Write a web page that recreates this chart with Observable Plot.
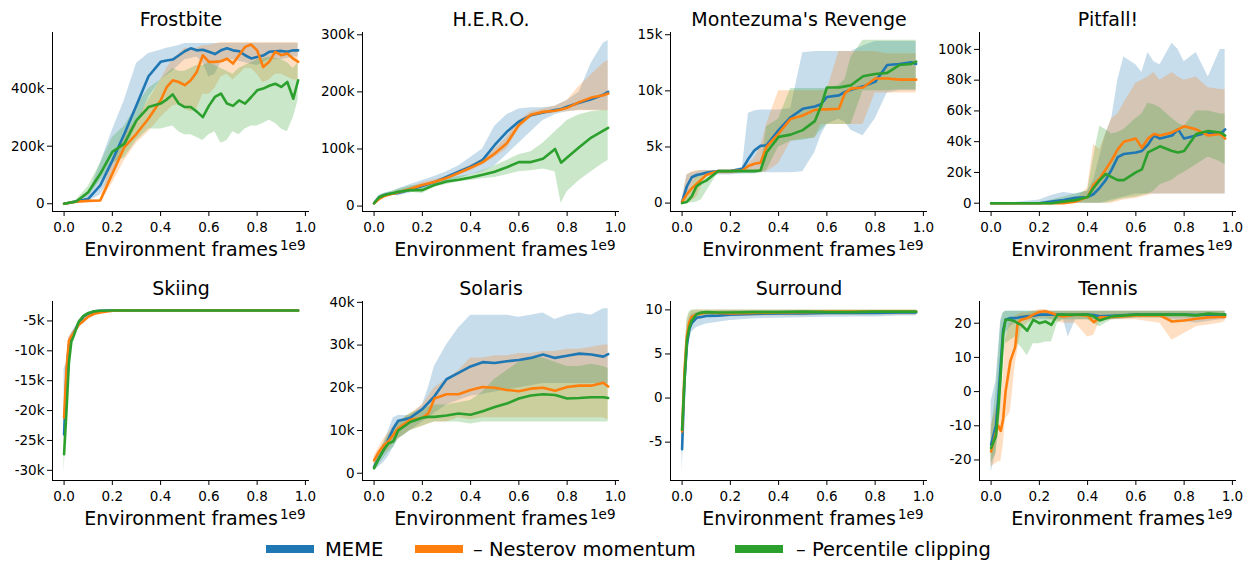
<!DOCTYPE html>
<html><head><meta charset="utf-8">
<script src="https://cdn.jsdelivr.net/npm/d3@7"></script>
<script src="https://cdn.jsdelivr.net/npm/@observablehq/plot@0.6"></script>
<style>
body{margin:0;background:#fff;}
#chart{position:relative;width:1256px;height:565px;font-family:"DejaVu Sans",sans-serif;overflow:hidden;}
#chart svg{position:absolute;}
</style></head><body><div id="chart"></div>
<script>
const seriesNames = ["MEME", "\u2013 Nesterov momentum", "\u2013 Percentile clipping"];
const colors = ["#1f77b4", "#ff7f0e", "#2ca02c"];
const xTicks = [0, 0.2, 0.4, 0.6, 0.8, 1.0];
const xLabel = "Environment frames";

// Frostbite (thousands)
const frostX = [0,0.05,0.1,0.15,0.2,0.25,0.3,0.35,0.4,0.425,0.45,0.475,0.5,0.525,0.55,0.575,0.6,0.625,0.65,0.675,0.7,0.725,0.75,0.775,0.8,0.825,0.85,0.875,0.9,0.925,0.95,0.97];
const frostMeme   = [0,8,17,64,150,243,342,443,493,498,501,515,530,540,533,535,528,520,533,540,533,530,516,505,510,515,528,530,531,528,533,533];
const frostMemeLo = [0,5,8,30,100,190,270,370,430,445,460,480,500,505,510,490,440,450,490,500,500,495,490,485,480,490,500,500,500,505,510,510];
const frostMemeHi = [2,12,30,140,255,360,487,522,533,540,545,550,557,557,557,557,557,557,557,557,557,557,557,557,557,557,557,557,557,557,557,557];
const frostNest   = [0,7,10,11,104,197,243,296,359,405,429,423,412,429,458,516,493,493,495,504,487,516,545,553,533,475,493,528,516,522,504,493];
const frostNestLo = [0,5,7,5,70,150,210,250,300,320,340,345,330,320,330,380,380,400,440,450,430,450,470,470,450,420,430,450,450,440,430,430];
const frostNestHi = [1,9,13,15,150,240,290,360,430,470,500,520,540,540,540,550,550,555,560,560,560,560,560,560,560,560,560,560,560,560,560,560];
const frostPerc   = [0,8,40,104,180,209,290,336,348,362,380,348,336,336,320,301,340,371,383,348,340,359,348,370,394,400,410,417,406,423,365,429];
const frostPercLo = [0,5,25,80,140,160,220,260,260,265,270,250,240,240,230,220,240,250,210,220,250,240,260,270,270,280,290,280,260,250,300,360];
const frostPercHi = [1,12,60,140,230,270,340,400,430,450,470,460,460,470,480,480,490,480,470,460,450,470,480,490,500,505,510,505,500,490,470,490];

// H.E.R.O. (thousands)
const heroX = [0,0.02,0.04,0.06,0.08,0.1,0.15,0.2,0.25,0.3,0.35,0.4,0.45,0.5,0.55,0.6,0.65,0.7,0.75,0.775,0.8,0.85,0.9,0.95,0.97];
const heroMeme   = [5,15,19,21,22,23,29,35,42,51,60,69,81,107,130,148,159,164,168,170,174,181,187,195,200];
const heroMemeLo = [3,12,16,18,19,18,23,28,35,42,48,55,60,70,90,110,130,150,160,163,165,168,168,168,168];
const heroMemeHi = [7,18,22,24,26,30,38,45,52,60,70,85,100,140,160,170,172,172,175,180,185,200,250,285,290];
const heroNest   = [5,12,17,20,22,24,30,37,42,49,58,67,77,92,110,142,160,165,167,169,172,182,190,194,197];
const heroNestLo = [3,10,15,18,20,22,27,33,39,46,54,62,72,85,100,135,155,160,163,165,165,167,167,167,167];
const heroNestHi = [7,14,19,22,24,26,33,41,46,52,62,72,82,100,120,150,165,170,175,180,185,210,230,250,255];
const heroPerc   = [5,15,19,21,23,25,28,28,37,43,46,50,55,60,68,77,77,83,100,76,85,103,120,132,137];
const heroPercLo = [3,12,16,18,19,20,24,22,33,38,42,45,48,50,55,60,62,65,60,5,25,45,60,75,80];
const heroPercHi = [7,18,22,24,27,30,35,38,42,48,52,55,62,70,80,90,95,110,130,140,150,160,165,168,168];

// Montezuma's Revenge (thousands)
const monteX = [0,0.02,0.04,0.06,0.08,0.1,0.15,0.2,0.25,0.275,0.3,0.325,0.35,0.4,0.45,0.5,0.55,0.575,0.6,0.65,0.675,0.7,0.75,0.8,0.85,0.9,0.95,0.97];
const monteMeme   = [0.1,1.5,2.3,2.5,2.6,2.7,2.85,2.85,3.05,3.95,4.7,5.1,5.15,6.5,7.65,8.4,8.6,8.8,9.45,9.6,9.9,10.1,10.4,10.8,12.3,12.4,12.55,12.4];
const monteMemeLo = [0,0.5,1.5,2.2,2.4,2.5,2.5,2.5,2.6,2.6,2.6,2.7,2.7,2.7,2.7,2.8,4.5,6.0,7.0,7.5,7.2,6.5,6.0,7.5,9.8,10.0,10.0,10.0];
const monteMemeHi = [0.3,2.5,2.7,2.8,2.9,2.9,2.9,2.9,3.2,8.0,8.2,8.3,8.3,8.3,8.4,13.4,13.5,13.5,13.5,13.5,13.5,13.5,14.0,14.4,14.4,14.4,14.4,14.4];
const monteNest   = [0.1,0.8,1.3,1.7,2.1,2.5,2.85,2.85,2.9,3.3,3.5,3.6,5.0,6.2,7.5,7.8,8.3,8.35,8.35,8.4,9.8,10.2,10.3,11.1,11.1,11.0,11.0,11.0];
const monteNestLo = [0,0.1,0.2,0.5,1.5,2.5,2.6,2.6,2.7,2.7,2.7,2.7,2.8,3.5,5.5,5.7,5.8,7.0,7.0,7.0,7.0,7.0,7.0,9.8,9.8,9.8,9.8,9.8];
const monteNestHi = [0.2,2.5,2.8,2.9,2.9,2.9,2.9,2.9,3.0,3.5,4.0,5.0,7.0,10.0,10.0,10.0,10.0,10.0,10.0,13.5,13.5,13.5,13.5,13.5,13.3,13.3,13.3,13.3];
const montePerc   = [0,0.1,0.6,1.5,1.8,2.0,2.85,2.85,2.85,2.85,2.85,2.9,4.5,5.9,6.1,6.5,7.3,8.6,10.3,10.3,10.4,10.5,11.3,11.5,11.6,12.3,12.4,12.6];
const montePercLo = [0,0,0,0.1,0.3,1.0,2.7,2.7,2.7,2.7,2.7,2.7,2.9,5.0,5.5,5.6,5.8,6.5,7.0,7.0,7.0,7.0,10.0,10.0,10.0,10.1,10.1,10.1];
const montePercHi = [0.1,0.5,1.5,2.3,2.5,2.8,2.9,2.9,2.9,3.0,3.0,3.0,6.8,7.5,10.2,10.2,10.2,10.2,10.2,10.5,11.0,13.0,14.5,14.5,14.5,14.5,14.5,14.5];

// Pitfall! (thousands)
const pitX = [0,0.1,0.2,0.25,0.3,0.35,0.4,0.425,0.45,0.475,0.5,0.525,0.55,0.6,0.625,0.65,0.675,0.7,0.75,0.775,0.8,0.85,0.9,0.95,0.97];
const pitMeme   = [0,0,0,1,2,3.5,4,6,10,15,22,30,32,33,34,38,44,42,44,48,42,44,46,45,48];
const pitMemeLo = [0,0,0,0,0,0,0,0,0,1,2,3,4,6,6,6,6,6,6,6,6,6,6,6,6];
const pitMemeHi = [0,0.5,2,5,7,6,8,15,30,45,55,80,95,90,85,98,92,90,104,100,92,98,82,100,100];
const pitNest   = [0,0,0,0,0,1,4,12,16,22,28,35,40,42,36,42,45,44,46,48,50,48,44,45,42];
const pitNestLo = [0,0,0,0,0,0,0,0,0,0,0,1,2,3,4,5,6,6,6,6,6,6,6,6,6];
const pitNestHi = [0,0,0,0.5,1,2,10,38,35,45,55,58,65,78,80,82,85,80,85,82,80,82,75,74,74];
const pitPerc   = [0,0,0,0,1,2,4,10,15,19,17,15,15,20,22,33,35,37,34,33,34,45,47,46,44];
const pitPercLo = [0,0,0,0,0,0,0,0,0,0,1,2,3,4,5,6,8,12,15,18,20,25,30,27,25];
const pitPercHi = [0,0,0.5,2,4,6,8,30,50,48,45,46,48,55,58,65,64,62,55,52,50,60,60,58,58];

// Skiing (thousands)
const skiX = [0,0.01,0.02,0.03,0.04,0.06,0.08,0.1,0.125,0.15,0.2,0.3,0.4,0.5,0.6,0.7,0.8,0.9,0.97];
const skiMeme   = [-24,-14,-9,-7.8,-7,-5.5,-4.3,-3.8,-3.4,-3.3,-3.25,-3.25,-3.25,-3.25,-3.25,-3.25,-3.25,-3.25,-3.25];
const skiMemeLo = [-25,-16,-10,-8.5,-7.6,-6,-4.7,-4.1,-3.6,-3.4,-3.3,-3.3,-3.3,-3.3,-3.3,-3.3,-3.3,-3.3,-3.3];
const skiMemeHi = [-13,-12,-8,-7,-6.4,-5,-4,-3.6,-3.3,-3.2,-3.2,-3.2,-3.2,-3.2,-3.2,-3.2,-3.2,-3.2,-3.2];
const skiNest   = [-21.2,-13,-8.3,-7.6,-7,-5.7,-5,-4.3,-3.8,-3.6,-3.3,-3.25,-3.25,-3.25,-3.25,-3.25,-3.25,-3.25,-3.25];
const skiNestLo = [-22,-14,-9,-8.2,-7.5,-6.1,-5.4,-4.6,-4,-3.7,-3.35,-3.3,-3.3,-3.3,-3.3,-3.3,-3.3,-3.3,-3.3];
const skiNestHi = [-20.5,-12,-7.7,-7,-6.5,-5.3,-4.6,-4,-3.6,-3.5,-3.25,-3.2,-3.2,-3.2,-3.2,-3.2,-3.2,-3.2,-3.2];
const skiPerc   = [-27.3,-20,-12,-8.5,-7.5,-5.2,-4.2,-3.7,-3.4,-3.3,-3.25,-3.25,-3.25,-3.25,-3.25,-3.25,-3.25,-3.25,-3.25];
const skiPercLo = [-30.5,-22,-13,-9.2,-8,-5.6,-4.5,-3.9,-3.5,-3.35,-3.3,-3.3,-3.3,-3.3,-3.3,-3.3,-3.3,-3.3,-3.3];
const skiPercHi = [-25,-18,-11,-8,-7,-4.9,-4,-3.5,-3.3,-3.25,-3.2,-3.2,-3.2,-3.2,-3.2,-3.2,-3.2,-3.2,-3.2];

// Solaris (thousands)
const solX = [0,0.02,0.04,0.06,0.08,0.1,0.125,0.15,0.2,0.225,0.25,0.3,0.35,0.4,0.45,0.5,0.55,0.6,0.65,0.7,0.75,0.8,0.85,0.9,0.95,0.97];
const solMeme   = [1.5,3.5,5.5,8,10.5,12.3,12.6,13,15,16.5,18,22,23.5,25,26,25.8,26.2,26.5,27,27.8,27,27.5,28,27.8,27.3,27.9];
const solMemeLo = [0.5,1.5,2.5,4,6,8,9,10,12,13,14,16,17,18,18.5,19,19.5,20,20.5,21,21,21,21,21,21,21];
const solMemeHi = [2.5,5,7,10,13,13.5,13.5,13.5,16,20,25,30,34,37,37,37,37,36.5,37,37.5,36,37,37.5,37,38.5,38.5];
const solNest   = [3,5,6.5,7.5,9,10.5,11.5,12.5,13,14,17.5,18.5,18.5,19.5,20.2,20,19.5,19.2,19.8,20,19.3,20.2,20.5,20.5,21.2,20.3];
const solNestLo = [2,3,4.5,5.5,7,8,9,10,11,11.5,12,12,13,12.5,13,13,13,13,13,13,13,13,13,13,13,12.5];
const solNestHi = [4,6,8,9.5,11,12,13,14,16,18,20,22,24,27,27,27.5,27.5,28,28,28.5,28.5,29,29,29.5,30,30];
const solPerc   = [1.2,3.5,5.5,7,7.5,10,11,12,13,13.2,13.2,13.5,14,13.7,14.5,15.5,16.3,17.5,18.2,18.5,18.3,17.5,17.6,17.8,17.8,17.6];
const solPercLo = [0.5,2,3.5,5,6,8,9,10,11,11.5,12,12,12,11.5,12,12,12,12,12,12,12,12,12,12,12,12];
const solPercHi = [2,5,7,9,10,12,13,14,15,15.5,16,16,16.5,17,19,22,24,26,27,27,26,25,25,25.5,25,24.5];

// Surround
const surX = [0,0.01,0.02,0.03,0.04,0.06,0.08,0.1,0.15,0.2,0.3,0.4,0.5,0.6,0.7,0.8,0.9,0.97];
const surMeme   = [-5.8,2,6,7.8,8.5,9.1,9.2,9.3,9.35,9.45,9.55,9.6,9.6,9.65,9.65,9.65,9.7,9.7];
const surMemeLo = [-8.5,-2,4,6.5,7.5,8,8.2,8.4,8.6,8.8,9.0,9.05,9.1,9.15,9.2,9.2,9.3,9.3];
const surMemeHi = [-4,4,7.5,9,9.5,9.7,9.8,9.8,9.85,9.9,9.9,9.9,9.9,9.9,9.9,9.9,9.9,9.9];
const surNest   = [-3.8,3,7,8.6,9.2,9.5,9.6,9.7,9.65,9.6,9.65,9.7,9.75,9.8,9.8,9.8,9.8,9.8];
const surNestLo = [-6.5,0,5,7.5,8.3,8.8,9.0,9.2,9.2,9.25,9.3,9.3,9.3,9.4,9.4,9.4,9.4,9.4];
const surNestHi = [-3,5,8.5,9.5,9.9,10,10,10,10,10,10,10,10,10,10,10,10,10];
const surPerc   = [-3.6,2,6.5,8,8.8,9.5,9.7,9.75,9.7,9.7,9.75,9.75,9.8,9.75,9.75,9.8,9.8,9.8];
const surPercLo = [-4.5,0,5,6.8,8,9,9.3,9.4,9.4,9.45,9.5,9.5,9.5,9.5,9.5,9.5,9.5,9.5];
const surPercHi = [-2.5,4,9,9.8,10,10,10,10,10,10,10,10,10,10,10,10,10,10];

// Tennis
const tenX = [0,0.02,0.03,0.04,0.05,0.06,0.08,0.1,0.11,0.125,0.15,0.175,0.2,0.225,0.25,0.275,0.3,0.32,0.35,0.4,0.425,0.45,0.5,0.6,0.7,0.75,0.8,0.85,0.9,0.95,0.97];
const tenMeme   = [-15.5,-10,-2,8,18,21,21.5,21.5,21.6,21.8,22,22.2,22.5,22.5,22.5,22.5,22.5,22.3,22.5,22.5,22.4,22,22.2,22.5,22.5,22.5,22.5,22.4,22.5,22.5,22.5];
const tenMemeLo = [-23.5,-18,-10,0,10,17,19,20,20,20.5,21,21,21,21,21,21,21,16,21,21,21,21,21,21.5,21.5,21,20.5,20,20.5,21,21];
const tenMemeHi = [-3,3,12,21,23,23.5,23.5,23.5,23.5,23.5,23.5,23.5,23.5,23.5,23.5,23.5,23.5,23.5,23.5,23.5,23.5,23.5,23.5,23.5,23.5,23.5,23.5,23.5,23.5,23.5,23.5];
const tenNest   = [-17.5,-12,-10,-11.5,-8,0,9,13,20,21,21.5,22.5,23.3,23.5,23,22.3,22,22.2,22.5,22.2,20.3,21.7,21.8,22.3,22.3,20.5,20.8,21.3,21.7,21.8,21.8];
const tenNestLo = [-22,-21,-20.5,-20.5,-16,-8,-6,8,12,18,20,21,21.5,21.5,21,20.5,20,20,20,16,16.5,20.5,21,21,20,15,17,19,19.5,20,20.5];
const tenNestHi = [-10,-5,-3,-3,5,15,21,22,22.5,23,23,23.5,24,24,23.5,23.5,23.5,23.5,23.5,23.5,23.5,23.5,23.5,23.5,23.5,23.5,23.5,23.5,23.5,23.5,23.5];
const tenPerc   = [-16.5,-13,-5,5,17,21,21,20.5,20,19.5,17.8,21,20,20.5,19.5,22.5,22.5,22.5,22.5,22.5,22,20.8,22,22.5,22.5,22.5,22.5,22.3,22.8,22.6,22.5];
const tenPercLo = [-21,-18,-12,-5,8,14,15,16,14,13,10.5,14,14,14.5,14.5,20,21,21,21,21,20,19,21,21.5,21.5,21.5,21.5,21.5,21.5,21.5,21.5];
const tenPercHi = [-12,0,10,20,23,23.5,23.5,23.5,23.5,23.5,23.5,23.5,23.5,23.5,23.5,23.5,23.5,23.5,23.5,23.5,23.5,23.5,23.5,23.5,23.5,23.5,23.5,23.5,23.5,23.5,23.5];

// tick values per panel
const frostTicks = [0, 200, 400];
const heroTicks = [0, 100, 200, 300];
const monteTicks = [0, 5, 10, 15];
const pitTicks = [0, 20, 40, 60, 80, 100];
const skiTicks = [-30, -25, -20, -15, -10, -5];
const solTicks = [0, 10, 20, 30, 40];
const surTicks = [-5, 0, 5, 10];
const tenTicks = [-20, -10, 0, 10, 20];

const kFmt = v => v === 0 ? "0" : (v < 0 ? "-" : "") + Math.abs(v) + "k";
const nFmt = v => (v < 0 ? "-" : "") + Math.abs(v);

const panels = [
  {title: "Frostbite", x: frostX, s: [[frostMeme, frostMemeLo, frostMemeHi], [frostNest, frostNestLo, frostNestHi], [frostPerc, frostPercLo, frostPercHi]], y: [-27, 595], ticks: frostTicks, fmt: kFmt},
  {title: "H.E.R.O.", x: heroX, s: [[heroMeme, heroMemeLo, heroMemeHi], [heroNest, heroNestLo, heroNestHi], [heroPerc, heroPercLo, heroPercHi]], y: [-9.5, 304], ticks: heroTicks, fmt: kFmt},
  {title: "Montezuma's Revenge", x: monteX, s: [[monteMeme, monteMemeLo, monteMemeHi], [monteNest, monteNestLo, monteNestHi], [montePerc, montePercLo, montePercHi]], y: [-0.75, 15.2], ticks: monteTicks, fmt: kFmt},
  {title: "Pitfall!", x: pitX, s: [[pitMeme, pitMemeLo, pitMemeHi], [pitNest, pitNestLo, pitNestHi], [pitPerc, pitPercLo, pitPercHi]], y: [-5.4, 111], ticks: pitTicks, fmt: kFmt},
  {title: "Skiing", x: skiX, s: [[skiMeme, skiMemeLo, skiMemeHi], [skiNest, skiNestLo, skiNestHi], [skiPerc, skiPercLo, skiPercHi]], y: [-31.7, -1.75], ticks: skiTicks, fmt: kFmt},
  {title: "Solaris", x: solX, s: [[solMeme, solMemeLo, solMemeHi], [solNest, solNestLo, solNestHi], [solPerc, solPercLo, solPercHi]], y: [-1.7, 40.2], ticks: solTicks, fmt: kFmt},
  {title: "Surround", x: surX, s: [[surMeme, surMemeLo, surMemeHi], [surNest, surNestLo, surNestHi], [surPerc, surPercLo, surPercHi]], y: [-9.35, 10.95], ticks: surTicks, fmt: nFmt},
  {title: "Tennis", x: tenX, s: [[tenMeme, tenMemeLo, tenMemeHi], [tenNest, tenNestLo, tenNestHi], [tenPerc, tenPercLo, tenPercHi]], y: [-26, 26.35], ticks: tenTicks, fmt: nFmt}
];

const xDomain = [-0.048, 1.017];
const colLeft = [0, 310, 618, 927];
const rowTop = [0, 269];
const chart = document.getElementById("chart");

panels.forEach((p, k) => {
  const marks = [];
  p.s.forEach((ser, i) => {
    const rows = p.x.map((x, j) => ({x, lo: ser[1][j], hi: ser[2][j]}));
    marks.push(Plot.areaY(rows, {x: "x", y1: "lo", y2: "hi", fill: colors[i], fillOpacity: 0.25}));
  });
  p.s.forEach((ser, i) => {
    const rows = p.x.map((x, j) => ({x, y: ser[0][j]}));
    marks.push(Plot.lineY(rows, {x: "x", y: "y", stroke: colors[i], strokeWidth: 2.6}));
  });
  marks.push(Plot.ruleX([xDomain[0]], {stroke: "#000", strokeWidth: 1}));
  marks.push(Plot.ruleY([p.y[0]], {stroke: "#000", strokeWidth: 1}));
  marks.push(Plot.text([p.title], {text: d => d, frameAnchor: "top", lineAnchor: "bottom", dy: -7, fontSize: 19, fill: "#000"}));
  marks.push(Plot.text([xLabel], {text: d => d, frameAnchor: "bottom", lineAnchor: "bottom", dy: 44, fontSize: 19, fill: "#000"}));
  marks.push(Plot.text(["1e9"], {text: d => d, frameAnchor: "bottom-right", textAnchor: "end", lineAnchor: "bottom", dy: 38, dx: -4, fontSize: 13.5, fill: "#000"}));
  const svg = Plot.plot({
    width: 310, height: 265,
    marginLeft: 52, marginRight: 1, marginTop: 32, marginBottom: 54,
    style: {fontFamily: "DejaVu Sans", fontSize: "13.5px", color: "#000", background: "transparent", overflow: "visible"},
    x: {domain: xDomain, ticks: xTicks, tickFormat: d3.format(".1f"), tickSize: 5, tickPadding: 6, label: null},
    y: {domain: p.y, ticks: p.ticks, tickFormat: p.fmt, tickSize: 5, tickPadding: 3, label: null},
    marks
  });
  svg.style.left = colLeft[k % 4] + "px";
  svg.style.top = rowTop[Math.floor(k / 4)] + "px";
  chart.appendChild(svg);
});

// legend
const leg = d3.select(chart).append("svg")
  .attr("width", 1256).attr("height", 40)
  .style("left", "0px").style("top", "530px");
const legX = [266, 415, 735];
const legTextX = [325, 473, 796];
seriesNames.forEach((name, i) => {
  leg.append("rect").attr("x", legX[i]).attr("y", 15).attr("width", 48).attr("height", 8).attr("fill", colors[i]);
  leg.append("text").attr("x", legTextX[i]).attr("y", 26).attr("font-family", "DejaVu Sans").attr("font-size", 19.5).attr("fill", "#000").text(name);
});
</script></body></html>
